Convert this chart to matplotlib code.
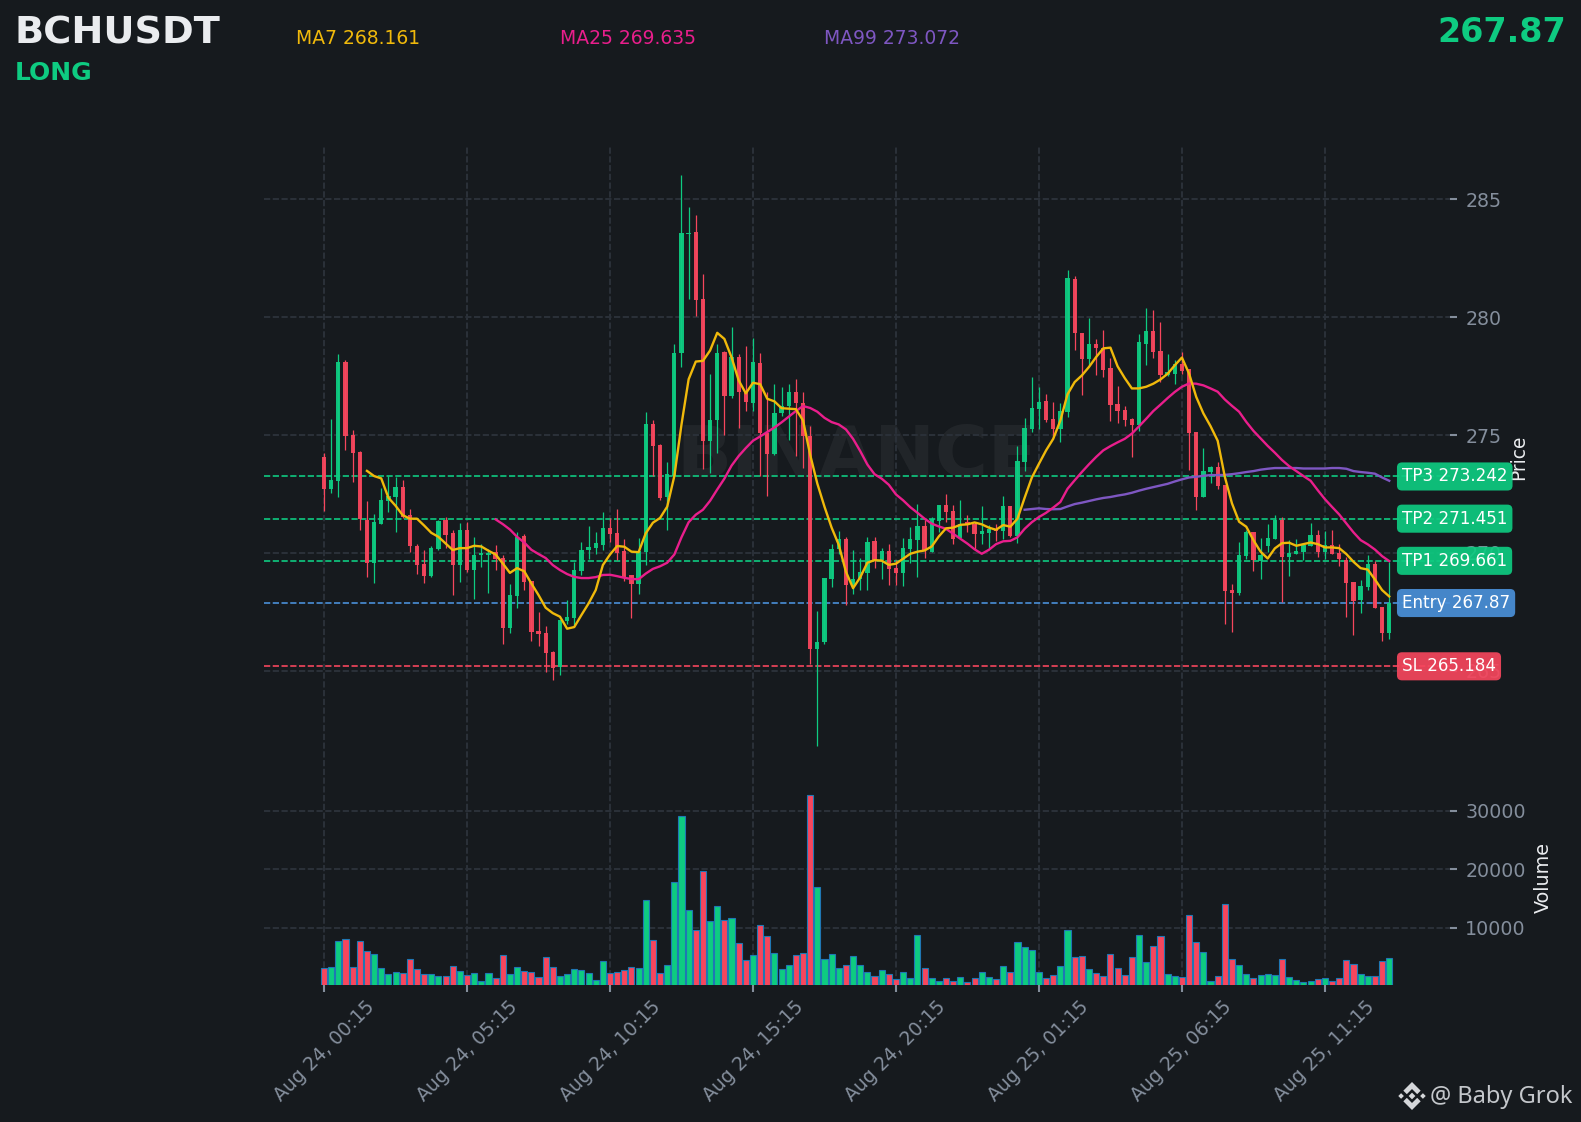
import matplotlib
matplotlib.use("Agg")
import matplotlib.pyplot as plt
from matplotlib.patches import Polygon
from matplotlib.transforms import IdentityTransform
import numpy as np

W, H = 1581, 1122
BG = "#161A1E"
UP = "#0ECB81"
DOWN = "#F6465D"
GRID = "#2B3139"
MUTED = "#848E9C"

symbol = "BCHUSDT"
side = "LONG"
last_price = "267.87"
tick_labels = ["Aug 24, 00:15", "Aug 24, 05:15", "Aug 24, 10:15", "Aug 24, 15:15",
               "Aug 24, 20:15", "Aug 25, 01:15", "Aug 25, 06:15", "Aug 25, 11:15"]
tick_index = [0, 20, 40, 60, 80, 100, 120, 140]

level_names = ["TP3 273.242", "TP2 271.451", "TP1 269.661", "Entry 267.87", "SL 265.184"]
level_values = [273.242, 271.451, 269.661, 267.87, 265.184]
level_colors = ["#0ECB81", "#0ECB81", "#0ECB81", "#4A90D9", "#F6465D"]

highs = [274.22,275.70,278.46,278.18,275.21,274.32,272.18,271.67,272.75,273.26,
         273.20,273.09,271.86,270.37,270.12,270.29,271.39,271.53,270.99,271.25,
         271.29,270.68,270.37,270.16,270.33,269.90,268.66,270.88,270.82,268.79,
         267.51,266.88,265.83,267.14,267.99,269.62,270.46,271.16,270.88,271.75,
         271.46,271.88,270.58,269.04,270.63,275.99,275.62,274.63,273.86,278.87,
         286.04,284.68,284.35,281.85,277.60,278.87,278.57,279.60,278.46,278.78,
         279.11,278.49,276.84,277.18,277.05,277.16,277.37,276.84,275.37,267.53,
         268.93,270.37,270.94,270.66,270.13,269.80,270.66,270.66,270.22,270.39,
         269.68,270.64,271.10,272.09,271.38,271.52,272.04,272.48,272.01,272.26,
         271.62,271.32,272.00,271.17,271.24,272.43,271.97,274.55,275.74,277.45,
         277.02,276.76,276.39,276.36,281.99,281.74,279.33,279.98,279.09,279.44,
         278.27,277.07,276.22,275.74,279.30,280.41,280.32,279.81,278.45,278.20,
         278.53,277.80,275.12,274.43,273.68,273.87,272.87,268.66,270.46,270.96,
         270.88,270.61,271.21,271.59,271.53,270.54,270.57,270.40,271.28,270.99,
         270.94,270.99,270.37,269.83,268.77,268.84,269.90,269.65,267.71,269.62]
lows = [271.79,272.55,272.35,274.36,273.02,270.96,268.98,268.73,271.22,271.74,
        270.89,271.46,270.05,269.11,268.73,268.98,270.14,270.19,268.22,268.77,
        269.20,268.05,269.41,268.28,269.27,266.14,266.61,267.67,268.42,266.27,
        266.05,264.94,264.62,264.82,266.97,266.93,269.04,269.75,269.95,270.13,
        270.47,269.69,268.80,267.25,268.26,269.49,273.26,272.24,270.99,273.26,
        277.89,280.78,280.07,273.54,273.41,274.25,275.02,276.56,275.29,276.02,
        276.02,273.26,272.42,274.16,275.81,274.81,274.12,273.59,265.30,261.78,
        266.13,268.55,269.93,267.79,268.26,268.44,268.44,269.36,268.90,268.63,
        268.63,268.59,269.57,268.97,269.79,270.02,270.88,271.31,270.36,270.61,
        270.88,270.15,270.39,270.22,270.49,270.57,270.67,270.42,273.46,275.11,
        275.24,275.54,274.92,274.69,275.76,278.62,276.68,277.96,277.53,277.45,
        275.58,275.50,275.37,274.07,275.16,277.96,278.25,277.24,277.49,277.15,
        277.61,273.51,271.84,272.37,272.97,272.69,267.00,266.65,268.19,269.75,
        269.24,268.90,270.03,270.58,267.91,269.03,269.93,269.68,270.29,269.83,
        269.75,269.95,269.45,267.26,266.52,267.46,268.42,267.65,266.27,266.35]
body_tops = [274.06,273.09,278.10,278.10,275.00,274.28,271.39,271.30,272.24,272.41,
             272.79,272.79,271.60,270.29,269.52,270.20,271.35,271.39,270.84,270.96,
             270.96,269.90,269.99,269.99,270.03,269.78,268.21,270.68,270.71,268.79,
             266.68,266.59,265.79,267.14,267.27,269.27,270.12,270.24,270.41,271.04,
             271.04,270.83,270.06,269.04,270.06,275.45,275.45,274.56,273.36,278.49,
             283.56,283.57,283.61,280.77,275.65,278.49,278.51,278.33,278.33,276.84,
             278.12,278.07,275.08,275.94,276.25,276.82,276.82,276.38,274.98,266.23,
             268.93,270.18,270.58,270.58,268.88,269.20,270.47,270.52,270.06,270.06,
             269.34,270.19,270.57,271.12,271.12,271.42,272.01,272.01,271.76,271.24,
             271.29,271.21,270.91,271.02,271.01,271.97,271.97,273.88,275.28,276.13,
             276.39,276.43,275.67,276.01,281.65,281.61,279.33,278.85,278.85,278.68,
             277.83,276.30,276.05,275.67,278.93,279.40,279.40,278.55,277.66,278.00,
             278.01,277.80,275.12,273.47,273.64,273.64,272.87,268.42,269.90,270.88,
             270.88,269.90,270.63,271.39,271.39,269.99,270.07,270.33,270.75,270.75,
             270.33,270.33,269.99,269.69,268.76,268.59,269.52,269.52,267.70,267.85]
body_bottoms = [272.72,272.72,273.06,274.97,274.25,271.45,269.58,269.58,271.22,272.20,
                272.37,271.53,270.29,269.48,269.01,269.01,270.16,270.75,269.48,269.48,
                269.27,269.27,269.90,269.90,269.73,266.80,266.80,268.16,268.76,266.64,
                266.55,265.74,265.11,265.15,267.10,267.23,269.22,270.12,270.20,270.32,
                270.79,269.98,268.99,268.68,268.68,270.05,274.53,272.34,272.37,273.26,
                278.49,283.53,280.73,274.76,274.76,275.65,276.66,276.66,276.84,276.41,
                276.36,275.08,274.20,274.20,275.94,276.23,276.36,274.97,265.92,265.92,
                266.20,268.88,270.16,268.63,268.60,268.88,269.15,269.69,269.68,269.30,
                269.13,269.13,270.15,270.53,270.10,270.02,271.34,271.72,270.57,270.61,
                271.17,270.78,270.78,270.83,270.91,270.91,270.70,270.70,273.84,275.24,
                276.09,275.62,275.24,275.24,275.96,279.32,278.21,278.21,278.68,277.75,
                276.26,276.01,275.62,275.41,275.41,278.85,278.51,277.53,277.53,277.58,
                277.71,275.08,272.37,272.37,273.43,272.83,268.38,268.29,268.28,269.86,
                269.69,269.65,270.29,270.58,269.82,269.82,269.95,270.03,270.29,270.03,
                270.03,269.95,269.73,268.71,267.95,267.99,268.53,267.65,266.59,266.59]
rising = [0,1,1,0,0,0,0,1,1,1,1,0,0,0,0,1,1,0,0,1,
          0,1,1,1,0,0,1,1,0,0,0,0,0,1,1,1,1,1,1,1,
          0,0,0,0,1,1,0,0,1,1,1,1,0,0,1,1,0,1,0,0,
          1,0,0,1,1,1,0,0,0,1,1,1,1,0,1,1,1,0,1,0,
          0,1,1,1,0,1,1,0,0,1,0,0,1,1,0,1,0,1,1,1,
          1,0,0,1,1,0,0,1,0,0,0,0,0,0,1,1,0,0,1,1,
          0,0,0,1,1,0,0,0,1,1,0,1,1,1,0,1,1,1,1,0,
          1,0,0,0,0,1,1,0,0,1]
volumes = [3160,3330,7780,8000,3330,7780,6070,5550,3160,2130,2480,2300,4700,2990,2130,2130,1790,1790,3500,2650,
           1960,2300,930,2300,1450,5380,2130,3330,2650,2480,1620,5040,3330,1790,2130,2990,2820,2300,1110,4360,
           2300,2480,2820,3330,3160,14790,7950,2300,3670,17870,29150,13080,9660,19750,11200,13760,11370,11710,7440,4530,
           5380,10510,8630,5720,2990,3670,5380,5720,32740,17000,4700,5550,3160,3670,5210,3670,2480,1790,2820,2130,
           1280,2480,1450,8800,3160,1450,930,1450,930,1620,770,1450,2480,1620,1280,3500,2480,7610,6750,6240,
           2480,1450,1960,3500,9660,5040,5210,2990,2300,1790,5550,3160,1960,5040,8800,4190,6920,8630,2130,1790,
           1620,12220,7610,5900,930,1790,14100,4700,3670,2130,1450,1960,2130,1960,4700,1620,1110,770,930,1280,
           1450,930,1450,4530,3840,2130,1790,1790,4360,4870]

ma7_start = 6
ma7 = [273.48,273.26,273.16,272.34,272.00,271.60,271.45,271.45,271.16,270.85,270.68,270.40,270.12,270.20,
       270.20,270.30,270.27,270.09,269.93,269.55,269.15,269.35,269.22,268.70,268.21,267.67,267.44,267.29,
       266.78,266.85,267.36,267.85,268.42,269.48,269.93,270.29,270.26,270.05,270.03,270.83,271.28,271.48,
       271.96,273.26,275.45,277.37,278.12,278.15,278.59,279.34,279.08,278.30,277.32,276.77,277.22,277.16,
       276.54,276.43,276.14,276.12,276.10,275.62,274.16,272.94,271.96,271.07,270.34,269.20,268.50,268.96,
       269.58,269.69,269.67,269.49,269.54,269.75,269.96,270.05,270.10,270.27,270.70,271.04,271.07,271.19,
       271.21,271.29,271.21,271.07,270.98,271.18,271.11,271.45,272.34,273.19,273.78,274.35,274.84,275.62,
       276.73,277.25,277.53,277.89,278.31,278.68,278.71,277.92,277.42,276.98,276.98,277.05,277.18,277.36,
       277.60,277.96,278.29,277.61,276.62,275.92,275.38,274.76,273.23,272.10,271.32,271.11,270.54,270.05,
       269.76,270.19,270.41,270.43,270.30,270.37,270.44,270.37,270.23,270.23,270.20,269.95,269.62,269.35,
       269.29,268.87,268.42,268.15]
ma25_start = 24
ma25 = [271.42,271.22,270.99,270.68,270.44,270.13,269.95,269.78,269.48,269.27,269.10,268.98,268.93,268.93,
        268.97,269.06,269.07,269.01,268.94,268.89,268.88,269.12,269.32,269.43,269.58,269.93,270.66,271.30,
        271.62,271.83,272.21,272.69,273.15,273.70,274.11,274.45,274.76,274.94,275.13,275.32,275.54,275.78,
        276.02,276.23,276.15,275.99,275.73,275.55,275.45,275.24,274.84,274.32,273.75,273.34,273.15,272.89,
        272.48,272.23,271.94,271.70,271.45,271.24,271.12,271.02,270.81,270.60,270.39,270.15,269.96,270.13,
        270.37,270.49,270.51,270.66,271.02,271.30,271.52,271.70,271.92,272.16,272.72,273.08,273.43,273.76,
        274.07,274.35,274.53,274.69,274.84,275.06,275.37,275.69,276.02,276.29,276.57,276.83,277.05,277.19,
        277.18,277.11,276.98,276.84,276.51,276.24,275.99,275.56,275.18,274.86,274.54,274.25,273.94,273.68,
        273.47,273.26,273.06,272.66,272.28,271.95,271.63,271.25,270.87,270.54,270.36,270.14,269.86,269.65]
ma99_start = 98
ma99 = [271.83,271.86,271.89,271.86,271.85,271.86,271.97,272.07,272.13,272.20,272.27,272.33,272.37,272.43,
        272.48,272.55,272.64,272.72,272.79,272.86,272.93,273.03,273.12,273.20,273.23,273.27,273.30,273.30,
        273.31,273.34,273.38,273.43,273.47,273.53,273.57,273.60,273.60,273.60,273.60,273.58,273.58,273.58,
        273.58,273.60,273.60,273.57,273.47,273.43,273.40,273.36,273.20,273.06]

ma_labels = ["MA7 268.161", "MA25 269.635", "MA99 273.072"]
ma_colors = ["#F0B90B", "#E91E8C", "#7E57C2"]
DASH = (0, (3.2, 1.3))


def fx(px):
    return px / W


def fy(py):
    return 1 - py / H


fig = plt.figure(figsize=(W / 100, H / 100), dpi=100, facecolor=BG)
ax = fig.add_axes([fx(264), fy(775), (1450 - 264) / W, (775 - 146) / H], facecolor=BG)
vax = fig.add_axes([fx(264), fy(985), (1450 - 264) / W, (985 - 775) / H], facecolor=BG, sharex=ax)
ax.patch.set_alpha(0)
vax.patch.set_alpha(0)

x = np.arange(len(highs))
up = np.array(rising, dtype=bool)
tops = np.array(body_tops)
bots = np.array(body_bottoms)
cols = np.where(up, UP, DOWN)

for a in (ax, vax):
    a.set_xlim(-8.4, 157.5)
    for s in a.spines.values():
        s.set_visible(False)
    a.yaxis.tick_right()
    a.yaxis.set_label_position("right")
    a.grid(True, color=GRID, linestyle=DASH, linewidth=1.4, zorder=0)
    a.set_axisbelow(True)
    a.tick_params(axis="y", colors=MUTED, labelsize=13.7, length=5, width=1.5, pad=6)
    a.tick_params(axis="x", colors=MUTED, labelsize=13.6, length=5, width=1.5, pad=4)

ax.set_ylim(260.57, 287.27)
ax.set_yticks([265, 270, 275, 280, 285])
ax.tick_params(axis="x", which="both", length=0, labelbottom=False)
ax.set_ylabel("Price", color="#EAECEF", fontsize=13.4)
ax.yaxis.set_label_coords((1509 - 264) / (1450 - 264), 0.505)

vax.set_ylim(207, 36150)
vax.set_yticks([10000, 20000, 30000])
vax.set_xticks(tick_index)
vax.set_xticklabels(tick_labels, rotation=45, ha="center")
vax.set_ylabel("Volume", color="#EAECEF", fontsize=13.8)
vax.yaxis.set_label_coords((1534 - 264) / (1450 - 264), 0.51)

ax.text(0.5, 0.505, "BINANCE", transform=ax.transAxes, ha="center", va="center",
        fontsize=52, fontweight="bold", color="#FFFFFF", alpha=0.05, zorder=0.5)

for name, value, color in zip(level_names, level_values, level_colors):
    ax.axhline(value, color=color, linestyle=DASH, linewidth=1.4, alpha=0.85, zorder=2)
    ax.text((1402 - 264) / (1450 - 264), value, name, transform=ax.get_yaxis_transform(),
            ha="left", va="center", color="#FFFFFF", fontsize=12.1, clip_on=False, zorder=10,
            bbox=dict(boxstyle="round,pad=0.3", facecolor=color, edgecolor="none", alpha=0.92))

ax.vlines(x, lows, highs, colors=cols, linewidth=0.9, zorder=3)
ax.bar(x, tops - bots, bottom=bots, width=0.6, color=cols, linewidth=0, zorder=3.2, alpha=0.95)

ax.plot(np.arange(len(ma7)) + ma7_start, ma7, color=ma_colors[0], linewidth=1.7, zorder=5)
ax.plot(np.arange(len(ma25)) + ma25_start, ma25, color=ma_colors[1], linewidth=1.7, zorder=4.5)
ax.plot(np.arange(len(ma99)) + ma99_start, ma99, color=ma_colors[2], linewidth=1.7, zorder=4)

vax.bar(x, volumes, width=0.85, color=cols, edgecolor="#1F77B4", linewidth=0.8, zorder=3)

fig.text(fx(15), fy(33), symbol, color="#EAECEF", fontsize=27.5, fontweight="bold", va="center", ha="left")
fig.text(fx(15), fy(73), side, color=UP, fontsize=18, fontweight="bold", va="center", ha="left")
for px, label, color in zip([295.5, 559.5, 823.5], ma_labels, ma_colors):
    fig.text(fx(px), fy(38), label, color=color, fontsize=13.5, va="center", ha="left")
fig.text(fx(1566), fy(33), last_price, color=UP, fontsize=24, fontweight="bold", va="center", ha="right")

# Binance mark beside the credit line
cx, cy, r = 1412, 1122 - 1096, 14
chevron = [(0, 1), (.62, .38), (.37, .13), (0, .5), (-.37, .13), (-.62, .38)]
shapes = [chevron, [(a, -b) for a, b in chevron]]
for ox, size in ((-.78, .2), (0, .24), (.78, .2)):
    shapes.append([(ox - size, 0), (ox, size), (ox + size, 0), (ox, -size)])
for shape in shapes:
    pts = [(cx + a * r, cy + b * r) for a, b in shape]
    fig.add_artist(Polygon(pts, closed=True, facecolor="#D5D7DA", edgecolor="none",
                           transform=IdentityTransform()))
fig.text(fx(1430), fy(1097), "@ Baby Grok", color="#C4C7CB", fontsize=17, family="Noto Sans",
         va="center", ha="left")

fig.savefig("out.png", dpi=100, facecolor=BG)
